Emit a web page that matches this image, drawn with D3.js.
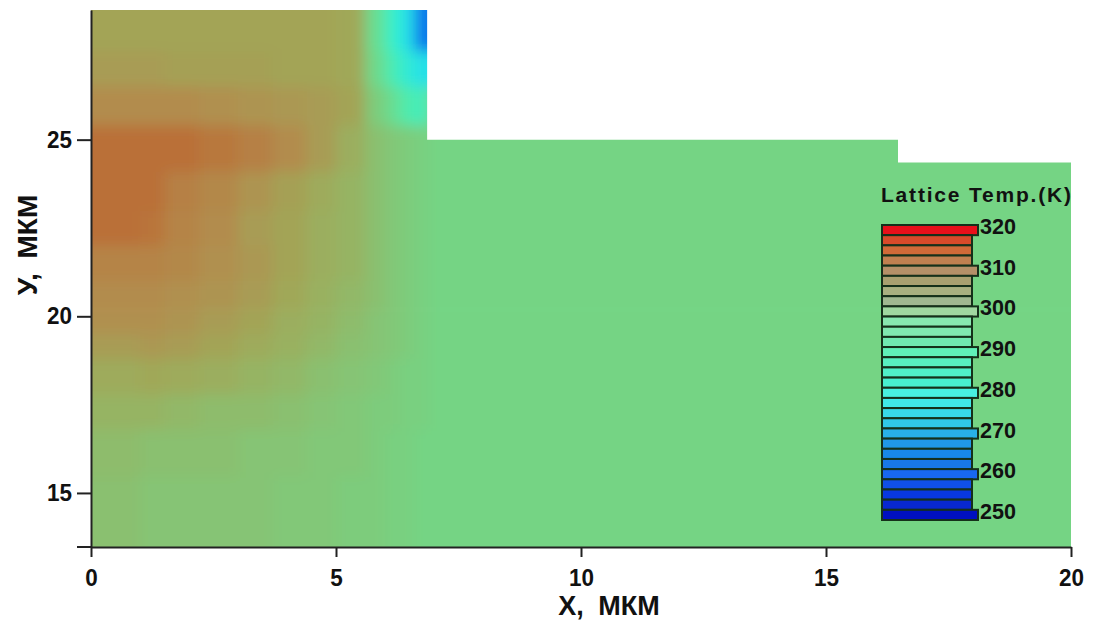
<!DOCTYPE html>
<html>
<head>
<meta charset="utf-8">
<script src="https://cdn.jsdelivr.net/npm/d3@7"></script>
<style>
  body { margin: 0; background: #fff; }
  text { fill: #111; }
</style>
</head>
<body>
<div id="chartArea"></div>
<script>
// cell edges of the temperature map, in µm
var xEdges = [0, 1, 1.5, 2.2, 3, 3.7, 4.4, 5, 5.6, 6.0, 6.3, 6.6, 6.9, 7.6, 8.5, 10, 13, 16.5, 20];
var yEdges = [28.67, 27.5, 26.5, 25.4, 24.1, 23, 22, 21, 20.2, 19.5, 18.8, 17.8, 16.8, 15.5, 13.47];

// lattice temperature (K), one row per y band, top to bottom
var tempRows = [
  [305, 305, 305, 305, 305, 305, 305, 304, 290, 282, 274, 260, 260, 292, 292, 292, 292, 292],
  [307, 307, 306, 306, 306, 305, 305, 304, 291, 285, 279, 274, 274, 292, 292, 292, 292, 292],
  [311, 311, 311, 310, 309, 308, 307, 305, 294, 290, 286, 284, 292, 292, 292, 292, 292, 292],
  [318, 318, 318, 316, 314, 311, 307, 302, 297, 295, 294, 293, 292, 292, 292, 292, 292, 292],
  [318, 318, 314, 312, 309, 306, 303, 300, 297, 295, 294, 293, 292, 292, 292, 292, 292, 292],
  [318, 317, 313, 311, 307, 305, 302, 300, 297, 295, 294, 293, 292, 292, 292, 292, 292, 292],
  [313, 313, 312, 310, 308, 305, 302, 300, 297, 295, 294, 293, 292, 292, 292, 292, 292, 292],
  [311, 311, 310, 309, 307, 304, 301, 299, 297, 295, 294, 293, 292, 292, 292, 292, 292, 292],
  [310, 310, 309, 307, 305, 302, 300, 298, 296, 295, 294, 293, 292, 292, 292, 292, 292, 292],
  [307, 308, 307, 305, 303, 301, 299, 297, 296, 295, 294, 293, 292, 292, 292, 292, 292, 292],
  [303, 304, 303, 302, 300, 299, 297, 296, 295, 294, 293, 293, 292, 292, 292, 292, 292, 292],
  [300, 300, 299, 298, 298, 297, 296, 295, 294, 294, 293, 293, 292, 292, 292, 292, 292, 292],
  [298, 297, 297, 297, 296, 296, 295, 295, 294, 293, 293, 292, 292, 292, 292, 292, 292, 292],
  [297, 296, 296, 296, 296, 295, 295, 294, 294, 293, 293, 292, 292, 292, 292, 292, 292, 292]
];

// device outline (µm)
var deviceOutline = [[0, 13.47], [0, 28.67], [6.86, 28.67], [6.86, 25], [16.47, 25],
                     [16.47, 24.35], [20, 24.35], [20, 13.47]];

var xTicks = [0, 5, 10, 15, 20];
var yTicks = [15, 20, 25];

// colour legend
var legendTemps = [320, 317.5, 315, 312.5, 310, 307.5, 305, 302.5, 300, 297.5, 295, 292.5, 290,
                   287.5, 285, 282.5, 280, 277.5, 275, 272.5, 270, 267.5, 265, 262.5, 260,
                   257.5, 255, 252.5, 250];
var legendLabels = [320, 310, 300, 290, 280, 270, 260, 250];
var legendColors = ['#e8101a', '#d84a2a', '#d06a38', '#c08050', '#b49068', '#a8a070', '#a8b080',
                    '#a0b890', '#a0d8a0', '#88e8b0', '#80e8b0', '#70e8b0', '#60f0b8', '#58f0c0',
                    '#50f0c8', '#48f0d0', '#48f0e0', '#40e8e8', '#38d8e8', '#30c8e8', '#28b0e8',
                    '#2098e8', '#1888e8', '#1878e8', '#1868f0', '#1050e8', '#0838e0', '#0828d0',
                    '#0010c0'];

// palette of the map itself (as it appears in the plot)
var fieldTemps  = [250, 258, 266, 274, 282, 288, 292, 296, 300, 304, 307, 310, 314, 318];
var fieldColors = ['#0040d0', '#0868e8', '#1aa8f0', '#28e0e8', '#38f0c8', '#5ae8a0', '#74d484',
                   '#86c474', '#96b464', '#a0a858', '#a89c54', '#b09050', '#b68044', '#ba7038'];

var width = 1093, height = 625;
var margin = {top: 10, right: 22, bottom: 78, left: 91};

var xscale = d3.scaleLinear().domain([0, 20]).range([margin.left, width - margin.right]);
var yscale = d3.scaleLinear().domain([13.47, 28.67]).range([height - margin.bottom, margin.top]);
var fieldColor = d3.scaleLinear().domain(fieldTemps).range(fieldColors).clamp(true);

var svg = d3.select('#chartArea').append('svg')
    .attr('width', width)
    .attr('height', height);

var defs = svg.append('defs');
var pad = 30;
defs.append('filter').attr('id', 'soft')
    .attr('filterUnits', 'userSpaceOnUse')
    .attr('x', margin.left - pad).attr('y', margin.top - pad)
    .attr('width', width).attr('height', height)
    .append('feGaussianBlur').attr('stdDeviation', 7);

var line = d3.line().x(function(d) { return xscale(d[0]); }).y(function(d) { return yscale(d[1]); });
defs.append('clipPath').attr('id', 'device')
    .append('path').attr('d', line(deviceOutline) + 'Z');

// one rect per cell; edge cells are stretched a bit so the blur does not fade at the border
var cells = [];
tempRows.forEach(function(row, j) {
  row.forEach(function(t, i) {
    cells.push({i: i, j: j, t: t});
  });
});
var nx = xEdges.length - 2, ny = yEdges.length - 2;

svg.append('g').attr('clip-path', 'url(#device)')
  .append('g').attr('filter', 'url(#soft)')
  .selectAll('rect').data(cells).enter().append('rect')
    .attr('x', function(d) { return xscale(xEdges[d.i]) - (d.i == 0 ? pad : 0); })
    .attr('y', function(d) { return yscale(yEdges[d.j]) - (d.j == 0 ? pad : 0); })
    .attr('width', function(d) {
      return xscale(xEdges[d.i + 1]) - xscale(xEdges[d.i]) + 0.6 + (d.i == 0 || d.i == nx ? pad : 0);
    })
    .attr('height', function(d) {
      return yscale(yEdges[d.j + 1]) - yscale(yEdges[d.j]) + 0.6 + (d.j == 0 || d.j == ny ? pad : 0);
    })
    .attr('fill', function(d) { return fieldColor(d.t); });

// axes
var font = '"Liberation Sans", Arial, sans-serif';
// squeeze the digits a little, the original uses a narrow face
function narrow(sel, perChar) {
  sel.attr('textLength', function(d) { return String(d).length * perChar; })
     .attr('lengthAdjust', 'spacingAndGlyphs');
}

var yAxis = svg.append('g')
    .attr('transform', 'translate(' + margin.left + ',0)')
    .call(d3.axisLeft(yscale).tickValues(yTicks).tickSize(14).tickSizeOuter(0).tickPadding(5));
var xAxis = svg.append('g')
    .attr('transform', 'translate(0,' + yscale(13.47) + ')')
    .call(d3.axisBottom(xscale).tickValues(xTicks).tickSize(10).tickSizeOuter(0).tickPadding(13));

[xAxis, yAxis].forEach(function(ax) {
  ax.selectAll('path, line').attr('stroke', '#222').attr('stroke-width', 2);
  ax.selectAll('text')
    .style('font-family', font)
    .style('font-weight', 'bold')
    .style('font-size', '23px')
    .attr('fill', '#111')
    .call(narrow, 12.5);
});
// the x axis line runs on past the y axis
svg.append('line')
    .attr('x1', xscale(0) - 14).attr('x2', xscale(0))
    .attr('y1', yscale(13.47)).attr('y2', yscale(13.47))
    .attr('stroke', '#222').attr('stroke-width', 2);

svg.append('text')
    .attr('x', 609).attr('y', 615)
    .attr('text-anchor', 'middle')
    .style('font-family', font)
    .style('font-weight', 'bold')
    .style('font-size', '27px')
    .style('word-spacing', '7px')
    .text('X, МКМ');

svg.append('text')
    .attr('transform', 'translate(37,245) rotate(-90)')
    .attr('text-anchor', 'middle')
    .style('font-family', font)
    .style('font-weight', 'bold')
    .style('font-size', '28px')
    .style('word-spacing', '7px')
    .text('У, МКМ');

// legend
var ly = d3.scaleBand().domain(legendTemps).range([225, 520]);
var lg = svg.append('g');
lg.append('text')
    .attr('x', 881).attr('y', 202)
    .attr('textLength', 190).attr('lengthAdjust', 'spacing')
    .style('font-family', font)
    .style('font-weight', 'bold')
    .style('font-size', '21px')
    .attr('fill', '#102010')
    .text('Lattice Temp.(K)');

lg.selectAll('rect').data(legendTemps).enter().append('rect')
    .attr('x', 882)
    .attr('y', function(d) { return ly(d); })
    .attr('width', function(d) { return legendLabels.indexOf(d) >= 0 ? 96 : 90; })
    .attr('height', ly.bandwidth())
    .attr('fill', function(d, i) { return legendColors[i]; })
    .attr('stroke', '#15301a')
    .attr('stroke-width', 2);

lg.selectAll('text.lab').data(legendLabels).enter().append('text')
    .attr('class', 'lab')
    .attr('x', 980)
    .attr('y', function(d) { return ly(d) + ly.bandwidth() / 2 + 4; })
    .style('font-family', font)
    .style('font-weight', 'bold')
    .style('font-size', '22px')
    .attr('fill', '#102010')
    .call(narrow, 12)
    .text(function(d) { return d; });
</script>
</body>
</html>
